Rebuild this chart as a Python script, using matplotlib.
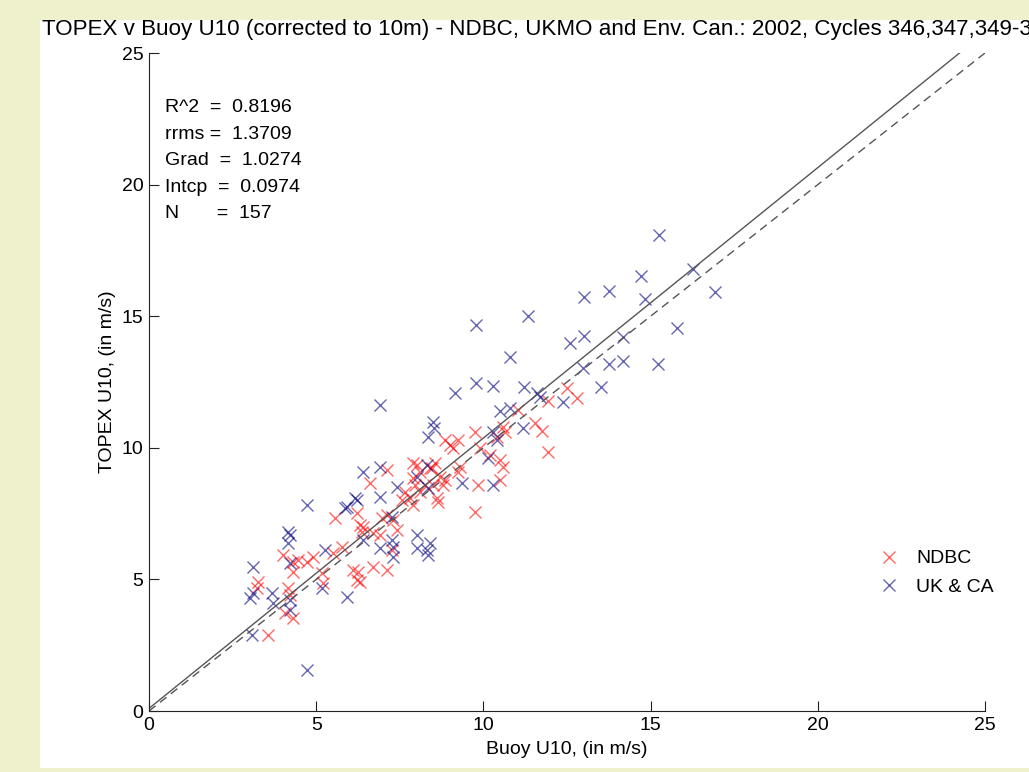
import matplotlib
matplotlib.use("Agg")
import matplotlib.pyplot as plt
from matplotlib.patches import Rectangle

plt.rcParams['font.family'] = ['Liberation Sans', 'DejaVu Sans']

# NDBC buoys (red)
ndbc_x = [12.50, 12.80, 11.93, 11.03, 11.54, 11.75, 11.93, 9.75, 10.59, 10.65,
          8.85, 9.24, 9.09, 9.00, 9.90, 10.41, 10.50, 10.59, 10.20, 8.55,
          8.46, 9.30, 9.24, 8.85, 8.70, 9.84, 10.50, 8.61, 8.64, 9.75,
          8.01, 8.10, 7.89, 8.40, 7.89, 7.95, 8.10, 8.25, 8.49, 8.79,
          7.66, 7.57, 7.81, 7.89, 7.12, 6.61, 5.56, 6.22, 6.31, 6.40,
          6.37, 6.97, 7.12, 7.30, 7.42, 6.70, 6.91, 6.10, 6.25, 6.22,
          6.31, 6.70, 7.12, 5.77, 5.50, 4.01, 4.31, 4.46, 4.72, 4.90,
          4.31, 5.17, 5.20, 3.26, 3.23, 4.16, 4.22, 4.07, 4.31, 3.56,
          7.27]
ndbc_y = [12.27, 11.89, 11.78, 11.44, 10.94, 10.64, 9.84, 10.60, 10.79, 10.60,
          10.30, 10.30, 9.99, 10.11, 9.99, 10.41, 9.54, 9.27, 9.73, 9.42,
          9.23, 9.27, 9.08, 8.78, 8.89, 8.59, 8.78, 8.09, 7.94, 7.56,
          9.35, 9.08, 9.42, 9.23, 8.85, 8.59, 8.32, 8.59, 8.59, 8.59,
          8.32, 8.02, 8.09, 7.83, 9.16, 8.66, 7.33, 7.52, 7.07, 6.99,
          6.80, 7.33, 7.45, 7.26, 6.88, 6.76, 6.69, 5.36, 5.28, 4.98,
          4.90, 5.47, 5.36, 6.23, 6.00, 5.93, 5.66, 5.74, 5.66, 5.85,
          5.28, 5.24, 4.86, 4.90, 4.67, 4.67, 4.41, 3.72, 3.53, 2.89,
          6.12]

# UKMO & Environment Canada buoys (blue)
ukca_x = [15.25, 16.27, 14.71, 13.76, 13.01, 14.83, 16.93, 11.33, 9.78, 15.79,
          13.01, 14.17, 12.59, 10.80, 12.98, 13.76, 14.17, 15.22, 13.52, 9.15,
          9.78, 10.29, 11.21, 11.60, 11.69, 12.38, 11.18, 10.50, 10.80, 8.49,
          8.52, 8.34, 10.29, 10.41, 10.14, 9.36, 10.29, 6.91, 4.72, 6.40,
          6.91, 6.91, 6.16, 6.22, 5.92, 7.42, 8.01, 8.31, 8.34, 4.16,
          4.22, 4.16, 4.22, 5.26, 6.40, 7.27, 7.30, 6.91, 7.27, 7.30,
          8.01, 8.01, 8.31, 8.34, 3.11, 5.17, 3.11, 3.02, 3.68, 3.71,
          4.22, 4.22, 5.92, 3.08, 4.72, 5.86, 8.40]
ukca_y = [18.09, 16.79, 16.53, 15.96, 15.73, 15.65, 15.92, 15.01, 14.67, 14.55,
          14.25, 14.21, 13.98, 13.45, 13.03, 13.18, 13.30, 13.18, 12.31, 12.08,
          12.46, 12.35, 12.31, 12.08, 11.93, 11.74, 10.75, 11.40, 11.51, 10.98,
          10.75, 10.41, 10.60, 10.30, 9.61, 8.66, 8.59, 11.63, 7.83, 9.08,
          9.27, 8.13, 8.09, 8.02, 7.75, 8.51, 8.89, 9.35, 8.47, 6.80,
          6.69, 6.38, 5.62, 6.12, 6.50, 6.50, 6.23, 6.19, 7.37, 5.85,
          6.69, 6.19, 6.12, 5.93, 5.47, 4.67, 4.48, 4.29, 4.48, 4.10,
          4.22, 3.84, 4.33, 2.89, 1.56, 7.71, 6.38]

grad = 1.0274
intcp = 0.0974
stats_lines = ["R^2  =  0.8196", "rrms =  1.3709", "Grad  =  1.0274",
               "Intcp  =  0.0974", "N       =  157"]
title = ("TOPEX v Buoy U10 (corrected to 10m) - NDBC, UKMO and Env. Can.: 2002, "
         "Cycles 346,347,349-355")

W, H = 1029, 772
fig = plt.figure(figsize=(W / 100, H / 100), dpi=100, facecolor='#eff1cd')
bg = Rectangle((40 / W, 4 / H), 1 - 40 / W, (768 - 20) / H,
               transform=fig.transFigure, facecolor='white',
               edgecolor='none', zorder=-10)
fig.patches.append(bg)

ax = fig.add_axes([149 / W, (H - 711) / H, (985 - 149) / W, (711 - 53) / H])
ax.set_zorder(5)
ax.set_facecolor('white')

ax.plot(ndbc_x, ndbc_y, linestyle='none', marker='x', color='#ff0000',
        alpha=0.6, markersize=9, markeredgewidth=1.0, label='NDBC')
ax.plot(ukca_x, ukca_y, linestyle='none', marker='x', color='#000080',
        alpha=0.6, markersize=9, markeredgewidth=1.0, label='UK & CA')

xs = [0, 25]
ax.plot(xs, [intcp + grad * v for v in xs], color='#555555', lw=1.0)
ax.plot(xs, xs, color='#555555', lw=1.0, linestyle=(0, (6, 4)))

ax.set_xlim(0, 25)
ax.set_ylim(0, 25)
ax.set_xticks([0, 5, 10, 15, 20, 25])
ax.set_yticks([0, 5, 10, 15, 20, 25])
for s in ('top', 'right'):
    ax.spines[s].set_visible(False)
for s in ('left', 'bottom'):
    ax.spines[s].set_color('#222222')
    ax.spines[s].set_linewidth(0.8)
ax.tick_params(direction='in', length=7, width=0.8, labelsize=14,
               colors='#222222', labelcolor='black', pad=4)

ax.set_xlabel('Buoy U10, (in m/s)', fontsize=14, labelpad=5)
ax.set_ylabel('TOPEX U10, (in m/s)', fontsize=14, labelpad=4)

ax.text(0.019, 0.93, "\n".join(stats_lines), transform=ax.transAxes,
        fontsize=14, va='top', ha='left', linespacing=1.73)

leg = ax.legend(loc='center left', bbox_to_anchor=(0.850, 0.210),
                frameon=False, fontsize=14, handlelength=1.2,
                handletextpad=0.8, labelspacing=0.55, numpoints=1)

fig.text(42 / W, 1 - 30 / H, title, fontsize=16.1, ha='left', va='center',
         zorder=6)

fig.savefig('out.png', dpi=100, facecolor=fig.get_facecolor())
